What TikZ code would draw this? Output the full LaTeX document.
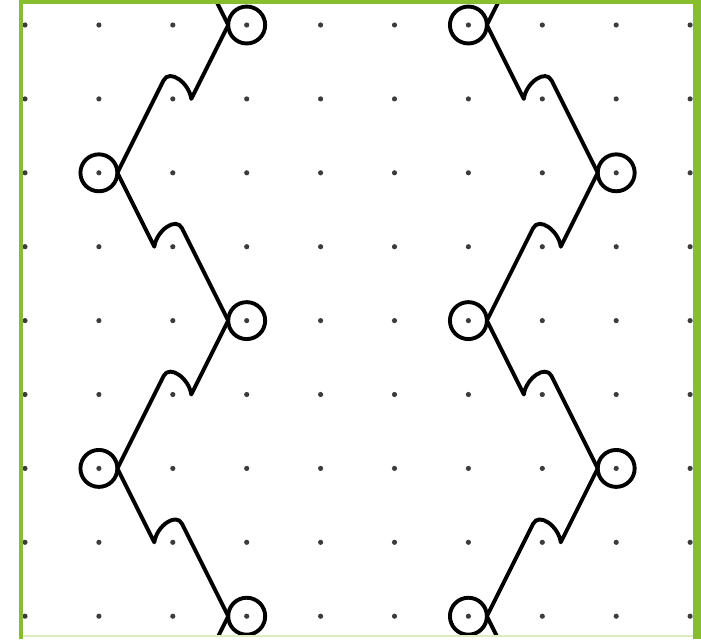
\documentclass[tikz,border=0pt]{standalone}
\definecolor{framegreen}{RGB}{134,190,46}
\definecolor{dotgray}{RGB}{60,60,60}
\begin{document}
\begin{tikzpicture}[
    ring/.style={circle, draw, line width=1.5pt, minimum size=0.5cm, inner sep=0pt, outer sep=0pt},
    wire/.style={line width=1.5pt, line join=round, line cap=round}
  ]
  \useasboundingbox (-0.3383,0.3383) rectangle (9.1475,-8.3085);

  % Dot grid
  \foreach \i in {0,...,9}
    \foreach \j in {0,...,8}
      \fill[dotgray] (\i,-\j) circle (0.035);

  % Rings of the two chains
  \foreach \r/\x in {0/3, 2/1, 4/3, 6/1, 8/3} {
    \node[ring] (L\r) at (\x,-\r) {};
    \node[ring] (R\r) at (9-\x,-\r) {};
  }
  \coordinate (Ltop) at (1.25,2);
  \coordinate (Lbot) at (1.25,-10);
  \coordinate (Rtop) at (7.75,2);
  \coordinate (Rbot) at (7.75,-10);

  % Zigzag wires with a hump
  \begin{scope}
    \clip (-0.05,0.3) rectangle (9.04,-8.27);
    \foreach \a/\b in {Ltop/L0.west, L2.east/L4.west, L6.east/L8.west, R0.east/R2.west, R4.east/R6.west, R8.east/Rbot}
      \draw[wire] (\a) -- ++(0.5,-1) .. controls +(0.03,0.22) and +(-0.08,0.16) .. ++(0.375,0.25) -- (\b);
    \foreach \a/\b in {L0.west/L2.east, L4.west/L6.east, L8.west/Lbot, Rtop/R0.east, R2.west/R4.east, R6.west/R8.east}
      \draw[wire] (\a) -- ++(-0.5,-1) .. controls +(-0.03,0.22) and +(0.08,0.16) .. ++(-0.375,0.25) -- (\b);
  \end{scope}

  % Green frame
  \draw[framegreen!30, line width=0.5pt] (-0.054,-8.268) -- (9.04,-8.268);
  \draw[framegreen, line width=1.3pt] (-0.054,-8.3085) -- (-0.054,0.311) -- (9.1,0.311);
  \fill[framegreen] (9.039,0.3383) rectangle (9.1475,-8.3085);
\end{tikzpicture}
\end{document}
